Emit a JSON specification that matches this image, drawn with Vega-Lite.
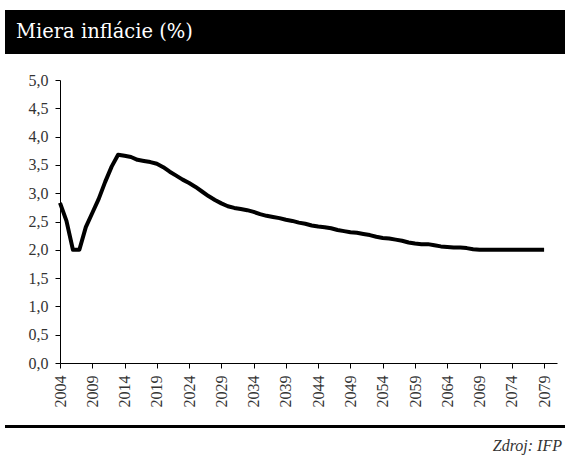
{
  "$schema": "https://vega.github.io/schema/vega-lite/v6.json",
  "background": "white",
  "padding": {"left": 5, "top": 10, "right": 0, "bottom": 0},
  "config": {"view": {"stroke": null}, "font": "Liberation Serif"},
  "spacing": 18,
  "vconcat": [
    {
      "width": 560,
      "height": 44,
      "view": {"fill": "black", "stroke": null},
      "data": {"values": [{"label": "Miera inflácie (%)"}]},
      "mark": {"type": "text", "x": 11, "y": 27.5, "align": "left", "baseline": "alphabetic", "color": "white", "font": "DejaVu Serif", "fontSize": 19.5},
      "encoding": {"text": {"field": "label"}}
    },
    {
      "spacing": 16,
      "vconcat": [
        {
          "width": 560,
          "height": 283,
          "data": {
            "values": [
              {"year": 2004, "value": 2.83}, {"year": 2005, "value": 2.51}, {"year": 2006, "value": 2.0}, {"year": 2007, "value": 2.0},
              {"year": 2008, "value": 2.4}, {"year": 2009, "value": 2.65}, {"year": 2010, "value": 2.9}, {"year": 2011, "value": 3.2},
              {"year": 2012, "value": 3.47}, {"year": 2013, "value": 3.68}, {"year": 2014, "value": 3.66}, {"year": 2015, "value": 3.64},
              {"year": 2016, "value": 3.59}, {"year": 2017, "value": 3.57}, {"year": 2018, "value": 3.55}, {"year": 2019, "value": 3.52},
              {"year": 2020, "value": 3.46}, {"year": 2021, "value": 3.38}, {"year": 2022, "value": 3.31}, {"year": 2023, "value": 3.24},
              {"year": 2024, "value": 3.18}, {"year": 2025, "value": 3.11}, {"year": 2026, "value": 3.03}, {"year": 2027, "value": 2.95},
              {"year": 2028, "value": 2.88}, {"year": 2029, "value": 2.82}, {"year": 2030, "value": 2.77}, {"year": 2031, "value": 2.74},
              {"year": 2032, "value": 2.72}, {"year": 2033, "value": 2.70}, {"year": 2034, "value": 2.67}, {"year": 2035, "value": 2.63},
              {"year": 2036, "value": 2.60}, {"year": 2037, "value": 2.58}, {"year": 2038, "value": 2.56}, {"year": 2039, "value": 2.53},
              {"year": 2040, "value": 2.51}, {"year": 2041, "value": 2.48}, {"year": 2042, "value": 2.46}, {"year": 2043, "value": 2.43},
              {"year": 2044, "value": 2.41}, {"year": 2045, "value": 2.40}, {"year": 2046, "value": 2.38}, {"year": 2047, "value": 2.35},
              {"year": 2048, "value": 2.33}, {"year": 2049, "value": 2.31}, {"year": 2050, "value": 2.30}, {"year": 2051, "value": 2.28},
              {"year": 2052, "value": 2.26}, {"year": 2053, "value": 2.23}, {"year": 2054, "value": 2.21}, {"year": 2055, "value": 2.20},
              {"year": 2056, "value": 2.18}, {"year": 2057, "value": 2.16}, {"year": 2058, "value": 2.13}, {"year": 2059, "value": 2.11},
              {"year": 2060, "value": 2.10}, {"year": 2061, "value": 2.10}, {"year": 2062, "value": 2.08}, {"year": 2063, "value": 2.06},
              {"year": 2064, "value": 2.05}, {"year": 2065, "value": 2.04}, {"year": 2066, "value": 2.04}, {"year": 2067, "value": 2.03},
              {"year": 2068, "value": 2.01}, {"year": 2069, "value": 2.00}, {"year": 2070, "value": 2.00}, {"year": 2071, "value": 2.00},
              {"year": 2072, "value": 2.00}, {"year": 2073, "value": 2.00}, {"year": 2074, "value": 2.00}, {"year": 2075, "value": 2.00},
              {"year": 2076, "value": 2.00}, {"year": 2077, "value": 2.00}, {"year": 2078, "value": 2.00}, {"year": 2079, "value": 2.00}
            ]
          },
          "mark": {"type": "line", "color": "black", "strokeWidth": 4, "strokeJoin": "round", "strokeCap": "butt"},
          "encoding": {
            "x": {
              "field": "year",
              "type": "quantitative",
              "scale": {"domain": [2004, 2081], "range": [55, 552], "nice": false, "zero": false},
              "axis": {
                "title": null,
                "grid": false,
                "values": [2004, 2009, 2014, 2019, 2024, 2029, 2034, 2039, 2044, 2049, 2054, 2059, 2064, 2069, 2074, 2079],
                "format": "d",
                "labelAngle": -90,
                "labelFont": "Liberation Serif",
                "labelFontSize": 16,
                "labelColor": "#333333",
                "labelPadding": 7,
                "tickSize": 5,
                "tickColor": "black",
                "domainColor": "black",
                "labelFlush": false,
                "labelOverlap": false
              }
            },
            "y": {
              "field": "value",
              "type": "quantitative",
              "scale": {"domain": [0, 5], "nice": false},
              "axis": {
                "title": null,
                "grid": false,
                "offset": -55,
                "values": [0, 0.5, 1, 1.5, 2, 2.5, 3, 3.5, 4, 4.5, 5],
                "labelExpr": "replace(format(datum.value, '.1f'), '.', ',')",
                "labelFont": "Liberation Serif",
                "labelFontSize": 16,
                "labelColor": "#333333",
                "labelPadding": 7,
                "tickSize": 5,
                "tickColor": "black",
                "domainColor": "black",
                "labelFlush": false,
                "labelOverlap": false
              }
            }
          }
        },
        {
          "width": 560,
          "height": 3,
          "view": {"fill": "black", "stroke": null},
          "title": {
            "text": "Zdroj: IFP",
            "orient": "bottom",
            "anchor": "end",
            "frame": "group",
            "font": "Liberation Serif",
            "fontStyle": "italic",
            "fontWeight": "normal",
            "fontSize": 16,
            "color": "#333333",
            "offset": 9,
            "dx": -3
          },
          "data": {"values": [{"k": 1}]},
          "mark": {"type": "point", "opacity": 0},
          "encoding": {}
        }
      ]
    }
  ]
}
